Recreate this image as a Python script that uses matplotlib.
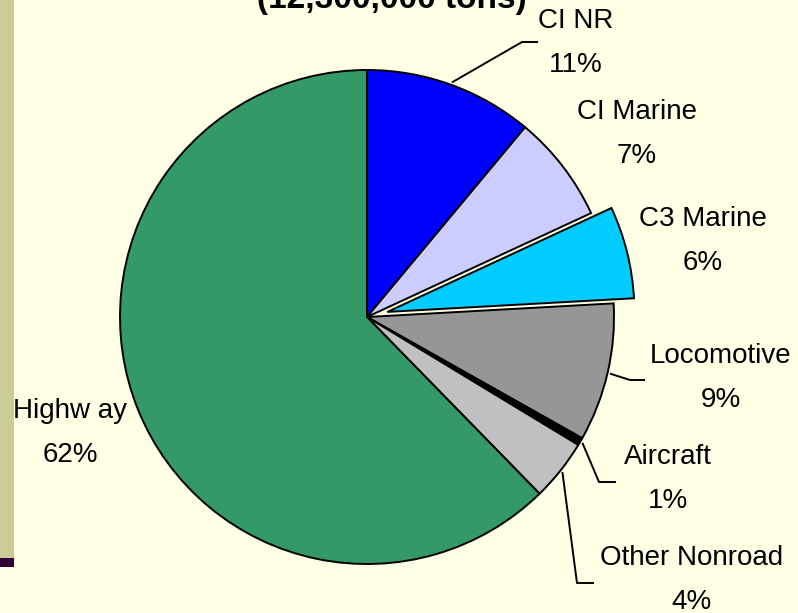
import matplotlib
matplotlib.use('Agg')
import matplotlib.pyplot as plt
import numpy as np

# slice data, clockwise from 12 o'clock
categories = ['CI NR', 'CI Marine', 'C3 Marine', 'Locomotive', 'Aircraft', 'Other Nonroad', 'Highw ay']
shares = [11, 7, 6, 9, 0.5, 4, 62]
pct_labels = ['11%', '7%', '6%', '9%', '1%', '4%', '62%']
title_text = '(12,300,000 tons)'

colors = ['#0000FF', '#CCCCFF', '#00CCFF', '#969696', '#000000', '#C0C0C0', '#339966']
explode = [0, 0, 0.085, 0, 0, 0, 0]

# layout in pixels (figure is 798 x 613)
W, H = 798, 613
CX, CY, R = 367, 317, 247
label_pos = {'CI NR': (576, 43), 'CI Marine': (637, 134), 'C3 Marine': (703, 241),
             'Locomotive': (721, 378), 'Aircraft': (668, 479),
             'Other Nonroad': (692, 580), 'Highw ay': (70, 433)}
# elbow of leader line and its horizontal end
leaders = {'CI NR': ((522, 42), (538, 42)),
           'Locomotive': ((630, 380), (645, 380)),
           'Aircraft': ((599, 482), (616, 482)),
           'Other Nonroad': ((577, 583), (594, 583))}

BG = '#FFFFE5'


def px(x, y):
  # pixel position -> data coords of the pie axes
  return (x - CX) / R, (CY - y) / R


fig = plt.figure(figsize=(W / 100, H / 100), dpi=100, facecolor=BG)
ax = fig.add_axes([0, 0, 1, 1])
ax.set_facecolor(BG)
plt.rcParams['font.family'] = ['Liberation Sans', 'DejaVu Sans']

wedges, _ = ax.pie(shares, colors=colors, explode=explode, startangle=90,
                   counterclock=False, radius=1, center=(0, 0),
                   wedgeprops=dict(edgecolor='black', linewidth=1.4))

ax.set_xlim(-CX / R, (W - CX) / R)
ax.set_ylim((CY - H) / R, CY / R)
ax.set_aspect('equal')
ax.axis('off')

# side decorations of the slide
fig.patches.append(plt.Rectangle((0, 1 - 558 / H), 14 / W, 558 / H, transform=fig.transFigure,
                                 facecolor='#CCCC99', edgecolor='none'))
fig.patches.append(plt.Rectangle((0, 1 - 567 / H), 14 / W, 9 / H, transform=fig.transFigure,
                                 facecolor='#330033', edgecolor='none'))

for w, cat, pct in zip(wedges, categories, pct_labels):
  tx, ty = px(*label_pos[cat])
  ax.text(tx, ty, f'{cat}\n{pct}', ha='center', va='center', fontsize=20,
          linespacing=1.9, color='black')
  if cat in leaders:
    mid = np.deg2rad((w.theta1 + w.theta2) / 2)
    sx, sy = 1.01 * np.cos(mid), 1.01 * np.sin(mid)
    (ex, ey), (hx, hy) = leaders[cat]
    ex, ey = px(ex, ey)
    hx, hy = px(hx, hy)
    ax.plot([sx, ex, hx], [sy, ey, hy], color='black', lw=1.4, solid_capstyle='butt')

# title sits mostly above the visible area, as in the slide
tx, ty = px(392, 8)
ax.text(tx, ty, title_text, ha='center', va='baseline', fontsize=24, fontweight='bold')

fig.savefig('out.png', dpi=100, facecolor=BG)
